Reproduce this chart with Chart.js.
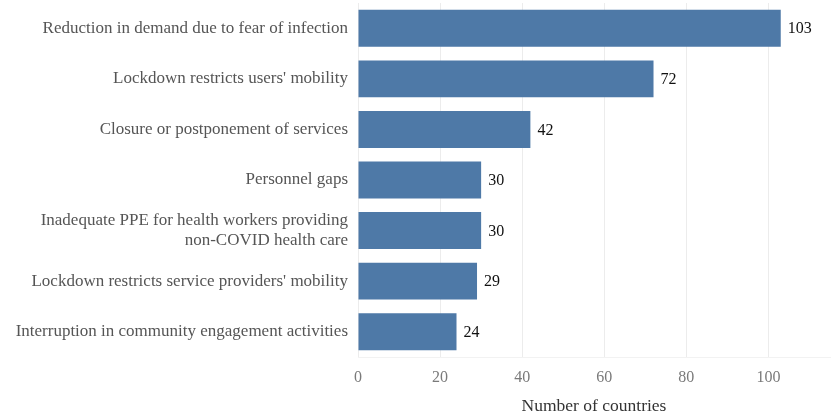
<!DOCTYPE html>
<html>
<head>
<meta charset="utf-8">
<script src="https://cdn.jsdelivr.net/npm/chart.js@4"></script>
<style>
    html, body { margin: 0; padding: 0; background: #ffffff; }
    #wrap { width: 832px; height: 414px; }
</style>
</head>
<body>
<div id="wrap"><canvas id="c" width="832" height="414"></canvas></div>
<script>
const categories = [
    'Reduction in demand due to fear of infection',
    "Lockdown restricts users' mobility",
    'Closure or postponement of services',
    'Personnel gaps',
    ['Inadequate PPE for health workers providing', 'non-COVID health care'],
    "Lockdown restricts service providers' mobility",
    'Interruption in community engagement activities'
];
const countries = [103, 72, 42, 30, 30, 29, 24];
const xTicks = [0, 20, 40, 60, 80, 100];

const serif = "'Liberation Serif', 'Times New Roman', serif";

const valueLabels = {
    id: 'valueLabels',
    afterDatasetsDraw(chart) {
        const ctx = chart.ctx;
        const meta = chart.getDatasetMeta(0);
        ctx.save();
        ctx.font = '16px ' + serif;
        ctx.fillStyle = '#111111';
        ctx.textAlign = 'left';
        ctx.textBaseline = 'middle';
        meta.data.forEach(function(bar, i) {
            ctx.fillText(String(countries[i]), bar.x + 7, bar.y + 1);
        });
        ctx.restore();
    }
};

new Chart(document.getElementById('c').getContext('2d'), {
    type: 'bar',
    plugins: [valueLabels],
    data: {
        labels: categories,
        datasets: [{
            data: countries,
            backgroundColor: '#4e79a7',
            borderWidth: 0,
            barPercentage: 0.73,
            categoryPercentage: 1.0
        }]
    },
    options: {
        indexAxis: 'y',
        responsive: false,
        animation: false,
        layout: { padding: { left: 0, right: 2, top: 3, bottom: 0 } },
        plugins: {
            legend: { display: false },
            tooltip: { enabled: false }
        },
        scales: {
            x: {
                min: 0,
                max: 115,
                afterBuildTicks: function(scale) {
                    scale.ticks = xTicks.map(function(v) { return { value: v }; });
                },
                afterFit: function(scale) {
                    scale.height = 57;
                    scale.paddingLeft = 0;
                    scale.paddingRight = 0;
                },
                grid: { color: '#ececec', drawTicks: false },
                border: { display: true, color: '#f2f2f2' },
                ticks: {
                    color: '#7a7a7a',
                    padding: 11,
                    font: { family: serif, size: 16 }
                },
                title: {
                    display: true,
                    text: 'Number of countries',
                    color: '#333333',
                    padding: { top: 4, bottom: -3 },
                    font: { family: serif, size: 17.5 }
                }
            },
            y: {
                afterFit: function(scale) {
                    scale.width = 358;
                    scale.paddingTop = 0;
                    scale.paddingBottom = 0;
                },
                grid: { display: false },
                border: { display: false },
                ticks: {
                    color: '#555555',
                    padding: 2,
                    font: { family: serif, size: 17 }
                }
            }
        }
    }
});
</script>
</body>
</html>
